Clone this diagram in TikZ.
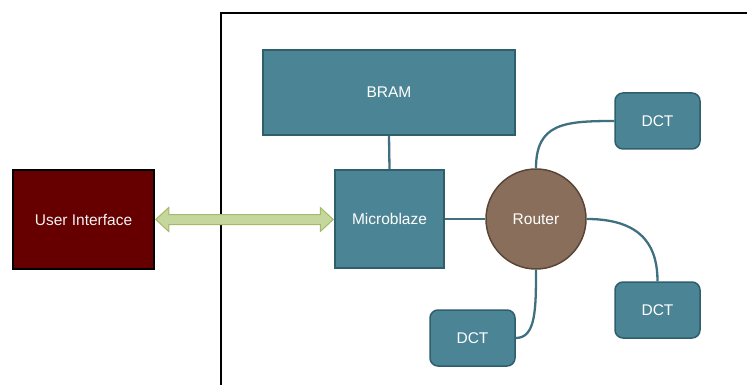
\documentclass[tikz,border=0pt]{standalone}
\usepackage{fontspec}
\setmainfont{Liberation Sans}
\usetikzlibrary{calc}
\definecolor{teal1}{HTML}{4B8595}
\definecolor{teal2}{HTML}{2F5E6C}
\definecolor{wire}{HTML}{3F7080}
\definecolor{uired}{HTML}{660000}
\definecolor{rtr}{HTML}{8A6E5C}
\definecolor{rtrb}{HTML}{5A4636}
\definecolor{arrf}{HTML}{C6D79E}
\definecolor{arrb}{HTML}{A4B96A}
\tikzset{
  txt/.style={font=\fontsize{15.5}{18}\selectfont},
  blk/.style={draw=teal2, line width=1.5pt, fill=teal1, text=white, txt, inner sep=0pt},
  dct/.style={blk, rounded corners=8pt, minimum width=85pt, minimum height=56pt},
  wire/.style={draw=wire, line width=2.3pt},
}
\begin{document}
\begin{tikzpicture}[x=1pt,y=1pt]
\useasboundingbox (0,0) rectangle (747,-385);
\begin{scope}
\clip (0,0) rectangle (747,-385);
\draw[line width=2pt] (760,-13) -- (221,-13) -- (221,-400);
\end{scope}
\node[blk, minimum width=252pt, minimum height=85pt] (bram) at (389,-92.5) {BRAM};
\node[blk, minimum width=109pt, minimum height=98pt] (mb) at (389.5,-219) {Microblaze};
\node[draw=black, line width=1.5pt, fill=uired, text=white!90!gray, txt, inner sep=0pt, minimum width=141pt, minimum height=99pt] (ui) at (83.5,-219.5) {User Interface};
\node[circle, draw=rtrb, line width=1.5pt, fill=rtr, text=white, txt, minimum size=100pt, inner sep=0pt] (rt) at (536,-219) {Router};
\node[dct] (d1) at (657.5,-121) {DCT};
\node[dct] (d2) at (657.5,-310) {DCT};
\node[dct] (d3) at (472.5,-338) {DCT};
\draw[wire] (bram.south) -- (mb.north);
\draw[wire] (mb.east) -- (rt.west);
\draw[wire] (rt.north) .. controls ($(rt.north)+(0,45)$) and ($(d1.west)+(-50,0)$) .. (d1.west);
\draw[wire] (rt.east) .. controls ($(rt.east)+(60,0)$) and ($(d2.north)+(0,30)$) .. (d2.north);
\draw[wire] (rt.south) .. controls ($(rt.south)+(0,-40)$) and ($(d3.east)+(20,0)$) .. (d3.east);
\path let \p1=(ui.east), \p2=(mb.west) in
  [fill=arrf, draw=arrb, line width=1pt]
  (\x1+1,\y1) -- (\x1+14,\y1+12) -- (\x1+14,\y1+5) -- (\x2-14,\y1+5) -- (\x2-14,\y1+12) -- (\x2-1,\y1)
  -- (\x2-14,\y1-12) -- (\x2-14,\y1-5) -- (\x1+14,\y1-5) -- (\x1+14,\y1-12) -- cycle;
\end{tikzpicture}
\end{document}
